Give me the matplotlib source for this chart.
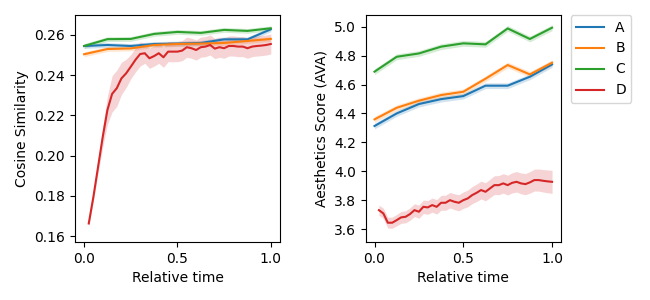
import numpy as np
import matplotlib
matplotlib.use("Agg")
import matplotlib.pyplot as plt

# relative time points
t_coarse = [0.0, 0.125, 0.25, 0.375, 0.5, 0.625, 0.75, 0.875, 1.0]
t_fine = [(i + 1) / 40 for i in range(40)]

# cosine similarity
cos_a = [0.2545, 0.2550, 0.2545, 0.2555, 0.2557, 0.2560, 0.2578, 0.2578, 0.2628]
cos_b = [0.2504, 0.2530, 0.2533, 0.2550, 0.2555, 0.2557, 0.2560, 0.2570, 0.2580]
cos_c = [0.2545, 0.2579, 0.2580, 0.2605, 0.2615, 0.2610, 0.2625, 0.2620, 0.2633]
cos_d = [0.1663, 0.1796, 0.1945, 0.2094, 0.2227, 0.2307, 0.2335, 0.2384, 0.2409, 0.2442,
         0.2476, 0.2505, 0.2509, 0.2484, 0.2495, 0.2509, 0.2489, 0.2517, 0.2517, 0.2517,
         0.2522, 0.2539, 0.2534, 0.2525, 0.2539, 0.2542, 0.2550, 0.2532, 0.2539, 0.2534,
         0.2545, 0.2545, 0.2542, 0.2542, 0.2534, 0.2542, 0.2545, 0.2547, 0.2550, 0.2555]
cos_err = [0.0012, 0.0012, 0.0012]
cos_d_err = [0.0015, 0.002, 0.003, 0.005, 0.007, 0.009, 0.009, 0.008, 0.007, 0.006,
             0.006, 0.006, 0.005, 0.005, 0.005, 0.005, 0.005, 0.005, 0.005, 0.005,
             0.005, 0.005, 0.005, 0.005, 0.005, 0.005, 0.005, 0.005, 0.005, 0.005,
             0.005, 0.005, 0.005, 0.005, 0.005, 0.005, 0.005, 0.005, 0.005, 0.005]

# aesthetics score
ava_a = [4.313, 4.400, 4.465, 4.499, 4.520, 4.592, 4.592, 4.654, 4.739]
ava_b = [4.359, 4.439, 4.488, 4.527, 4.550, 4.640, 4.735, 4.670, 4.751]
ava_c = [4.689, 4.792, 4.815, 4.862, 4.885, 4.878, 4.988, 4.915, 4.993]
ava_d = [3.731, 3.708, 3.644, 3.644, 3.662, 3.681, 3.685, 3.704, 3.731, 3.720,
         3.754, 3.750, 3.766, 3.754, 3.782, 3.782, 3.800, 3.789, 3.782, 3.800,
         3.812, 3.835, 3.851, 3.870, 3.858, 3.881, 3.904, 3.904, 3.916, 3.904,
         3.920, 3.927, 3.916, 3.911, 3.923, 3.939, 3.939, 3.934, 3.930, 3.927]
ava_err = [0.02, 0.02, 0.02]

labels = ["A", "B", "C", "D"]
colors = ["tab:blue", "tab:orange", "tab:green", "tab:red"]

fig = plt.figure(figsize=(6.5, 3), dpi=100)
ax1 = fig.add_axes([0.115, 0.194, 0.316, 0.756])
ax2 = fig.add_axes([0.5625, 0.194, 0.3005, 0.756])


def band(ax, x, y, err, color, label):
    y = np.array(y)
    err = np.array(err)
    ax.plot(x, y, color=color, lw=1.5, label=label)
    ax.fill_between(x, y - err, y + err, color=color, alpha=0.2, lw=0)


for y, e, c, l in zip([cos_a, cos_b, cos_c], cos_err, colors, labels):
    band(ax1, t_coarse, y, e, c, l)
band(ax1, t_fine, cos_d, cos_d_err, colors[3], labels[3])

for y, e, c, l in zip([ava_a, ava_b, ava_c], ava_err, colors, labels):
    band(ax2, t_coarse, y, e, c, l)
band(ax2, t_fine, ava_d, np.linspace(0.035, 0.08, 40), colors[3], labels[3])

ax1.set_xlim(-0.05, 1.05)
ax1.set_ylim(0.1572, 0.2699)
ax1.set_yticks([0.16, 0.18, 0.20, 0.22, 0.24, 0.26])
ax1.set_xlabel("Relative time")
ax1.set_ylabel("Cosine Similarity")

ax2.set_xlim(-0.05, 1.05)
ax2.set_ylim(3.512, 5.081)
ax2.set_xlabel("Relative time")
ax2.set_ylabel("Aesthetics Score (AVA)")
ax2.legend(loc="upper left", bbox_to_anchor=(1.05, 1), borderaxespad=0)

plt.savefig("out.png")
